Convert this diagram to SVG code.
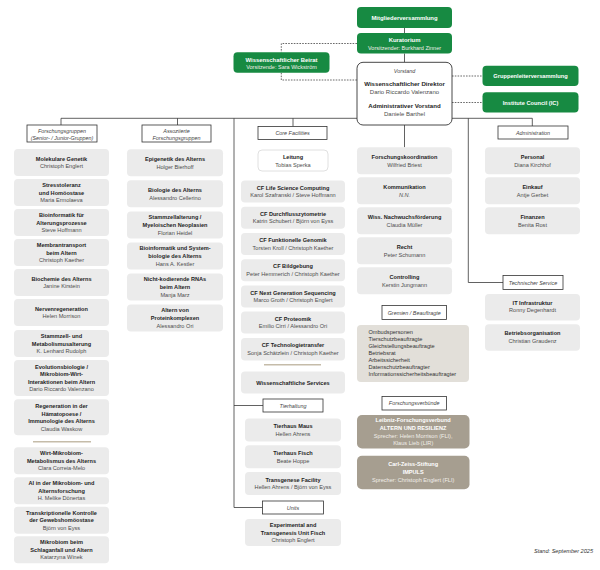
<svg xmlns="http://www.w3.org/2000/svg" width="600" height="570" viewBox="0 0 600 570">
<style>
.n{fill:#ebebeb}
.lb{fill:#fff;stroke:#333;stroke-width:.8}
.gr{fill:#178a42}
.tan{fill:#e2dfd9}
.dk{fill:#a69e90}
text{font-family:'Liberation Sans',Arial,sans-serif;font-size:5.6px;text-anchor:middle}
.b{font-weight:bold;fill:#1e1e1e}
.r{fill:#4d4d4d}
.i{font-style:italic;fill:#444}
.w{font-weight:bold;fill:#fff}
.wr{fill:#f1eee9}
.c{stroke:#3a3a3a;stroke-width:.8;fill:none}
.d{stroke:#444;stroke-width:.8;stroke-dasharray:1.6 1.2;fill:none}
.sep{stroke:#c5bca9;stroke-width:1.5}
</style>
<g id="connectors">
<path class="c" d="M404.5 28V33M404.5 53.5V62.3M404.5 125V147.3"/>
<path class="c" d="M61 118.3H532.3M61 118.3V125M177.5 118.3V125M234 118.3V507.5M293 118.3V126.5M468.3 118.3V282.5H503M532.3 118.3V126"/>
<path class="c" d="M234 405.5H263M234 507.5H262.5"/>
<path class="d" d="M357 43.5H281.3V52.3M281.3 72.8V80H357"/>
<path class="d" d="M452 76H482.5M452 102.5H482.5"/>
<line class="sep" x1="33" y1="441.7" x2="91" y2="441.7"/>
<line class="sep" x1="264" y1="364.8" x2="321" y2="364.8"/>
</g>
<g id="mitgliederversammlung"><rect class="gr" x="357" y="7" width="95" height="21" rx="4"/><text class="w" x="404.5" y="19.6" style="font-size:5.9px">Mitgliederversammlung</text></g>
<g id="kuratorium"><rect class="gr" x="357" y="33" width="95" height="20.5" rx="4"/><text class="w" x="404.5" y="42.1" style="font-size:5.9px">Kuratorium</text><text class="wr" x="404.5" y="49.7" style="font-size:5.5px">Vorsitzender: Burkhard Zinner</text></g>
<g id="beirat"><rect class="gr" x="233.5" y="52.3" width="96" height="20.5" rx="4"/><text class="w" x="281.5" y="62" style="font-size:5.9px">Wissenschaftlicher Beirat</text><text class="wr" x="281.5" y="69.4" style="font-size:5.5px">Vorsitzende: Sara Wickström</text></g>
<g id="vorstand"><rect x="357" y="62.3" width="95" height="62.7" rx="6" fill="#fff" stroke="#333" stroke-width=".9"/>
<text class="i" x="404.5" y="73.4" style="font-size:5.4px">Vorstand</text>
<text class="b" x="404.5" y="86.4" style="font-size:6.1px">Wissenschaftlicher Direktor</text>
<text class="r" x="404.5" y="94.4" style="font-size:6px">Dario Riccardo Valenzano</text>
<text class="b" x="404.5" y="108.1" style="font-size:6.1px">Administrativer Vorstand</text>
<text class="r" x="404.5" y="116.1" style="font-size:6px">Daniele Barthel</text></g>
<g id="gruppenleiter"><rect class="gr" x="482.5" y="65.7" width="96" height="20.3" rx="4"/><text class="w" x="530.5" y="78" style="font-size:5.7px">Gruppenleiterversammlung</text></g>
<g id="ic"><rect class="gr" x="482.5" y="92.3" width="96" height="20.3" rx="4"/><text class="w" x="530.5" y="104.5" style="font-size:5.7px">Institute Council (IC)</text></g>

<g id="lbl-forschungsgruppen"><rect class="lb" x="27" y="125" width="70" height="17"/><text class="i" x="62" y="132.6" style="font-size:5.4px">Forschungsgruppen</text><text class="i" x="62" y="140.1" style="font-size:5.4px">(Senior- / Junior-Gruppen)</text></g>
<g id="fg1"><rect class="n" x="14" y="149" width="95" height="27" rx="4"/><text class="b" x="61.5" y="160.7">Molekulare Genetik</text><text class="r" x="61.5" y="168.3">Christoph Englert</text></g>
<g id="fg2"><rect class="n" x="14" y="179" width="95" height="27" rx="4"/><text class="b" x="61.5" y="186.9">Stresstoleranz</text><text class="b" x="61.5" y="194.5">und Homöostase</text><text class="r" x="61.5" y="202.1">Maria Ermolaeva</text></g>
<g id="fg3"><rect class="n" x="14" y="209" width="95" height="27" rx="4"/><text class="b" x="61.5" y="216.9">Bioinformatik für</text><text class="b" x="61.5" y="224.5">Alterungsprozesse</text><text class="r" x="61.5" y="232.1">Steve Hoffmann</text></g>
<g id="fg4"><rect class="n" x="14" y="239" width="95" height="27" rx="4"/><text class="b" x="61.5" y="246.9">Membrantransport</text><text class="b" x="61.5" y="254.5">beim Altern</text><text class="r" x="61.5" y="262.1">Christoph Kaether</text></g>
<g id="fg5"><rect class="n" x="14" y="269" width="95" height="27" rx="4"/><text class="b" x="61.5" y="280.7">Biochemie des Alterns</text><text class="r" x="61.5" y="288.3">Janine Kirstein</text></g>
<g id="fg6"><rect class="n" x="14" y="299" width="95" height="27" rx="4"/><text class="b" x="61.5" y="310.7">Nervenregeneration</text><text class="r" x="61.5" y="318.3">Helen Morrison</text></g>
<g id="fg7"><rect class="n" x="14" y="330" width="95" height="27" rx="4"/><text class="b" x="61.5" y="337.9">Stammzell- und</text><text class="b" x="61.5" y="345.5">Metabolismusalterung</text><text class="r" x="61.5" y="353.1">K. Lenhard Rudolph</text></g>
<g id="fg8"><rect class="n" x="14" y="360" width="95" height="36" rx="4"/><text class="b" x="61.5" y="368.6">Evolutionsbiologie /</text><text class="b" x="61.5" y="376.2">Mikrobiom-Wirt-</text><text class="b" x="61.5" y="383.8">Interaktionen beim Altern</text><text class="r" x="61.5" y="391.4">Dario Riccardo Valenzano</text></g>
<g id="fg9"><rect class="n" x="14" y="399.3" width="95" height="36" rx="4"/><text class="b" x="61.5" y="407.9">Regeneration in der</text><text class="b" x="61.5" y="415.5">Hämatopoese /</text><text class="b" x="61.5" y="423.1">Immunologie des Alterns</text><text class="r" x="61.5" y="430.7">Claudia Waskow</text></g>
<g id="fg10"><rect class="n" x="14" y="447.3" width="95" height="27" rx="4"/><text class="b" x="61.5" y="455.2">Wirt-Mikrobiom-</text><text class="b" x="61.5" y="462.8">Metabolismus des Alterns</text><text class="r" x="61.5" y="470.4">Clara Correia-Melo</text></g>
<g id="fg11"><rect class="n" x="14" y="477.3" width="95" height="27" rx="4"/><text class="b" x="61.5" y="485.2">AI in der Mikrobiom- und</text><text class="b" x="61.5" y="492.8">Alternsforschung</text><text class="r" x="61.5" y="500.4">H. Melike Dönertas</text></g>
<g id="fg12"><rect class="n" x="14" y="506.7" width="95" height="27" rx="4"/><text class="b" x="61.5" y="514.6">Transkriptionelle Kontrolle</text><text class="b" x="61.5" y="522.2">der Gewebshomöostase</text><text class="r" x="61.5" y="529.8">Björn von Eyss</text></g>
<g id="fg13"><rect class="n" x="14" y="536.3" width="95" height="27" rx="4"/><text class="b" x="61.5" y="544.2">Mikrobiom beim</text><text class="b" x="61.5" y="551.8">Schlaganfall und Altern</text><text class="r" x="61.5" y="559.4">Katarzyna Winek</text></g>

<g id="lbl-assoziierte"><rect class="lb" x="142" y="125" width="69" height="17"/><text class="i" x="176.5" y="132.6" style="font-size:5.4px">Assoziierte</text><text class="i" x="176.5" y="140.1" style="font-size:5.4px">Forschungsgruppen</text></g>
<g id="af1"><rect class="n" x="127" y="149.3" width="96" height="27" rx="4"/><text class="b" x="175" y="161">Epigenetik des Alterns</text><text class="r" x="175" y="168.6">Holger Bierhoff</text></g>
<g id="af2"><rect class="n" x="127" y="180.3" width="96" height="27" rx="4"/><text class="b" x="175" y="192">Biologie des Alterns</text><text class="r" x="175" y="199.6">Alessandro Cellerino</text></g>
<g id="af3"><rect class="n" x="127" y="211.5" width="96" height="27" rx="4"/><text class="b" x="175" y="219.4">Stammzellalterung /</text><text class="b" x="175" y="227">Myeloischen Neoplasien</text><text class="r" x="175" y="234.6">Florian Heidel</text></g>
<g id="af4"><rect class="n" x="127" y="242.5" width="96" height="27" rx="4"/><text class="b" x="175" y="250.4">Bioinformatik und System-</text><text class="b" x="175" y="258">biologie des Alterns</text><text class="r" x="175" y="265.6">Hans A. Kestler</text></g>
<g id="af5"><rect class="n" x="127" y="273.5" width="96" height="27" rx="4"/><text class="b" x="175" y="281.4">Nicht-kodierende RNAs</text><text class="b" x="175" y="289">beim Altern</text><text class="r" x="175" y="296.6">Manja Marz</text></g>
<g id="af6"><rect class="n" x="127" y="304.5" width="96" height="27" rx="4"/><text class="b" x="175" y="312.4">Altern von</text><text class="b" x="175" y="320">Proteinkomplexen</text><text class="r" x="175" y="327.6">Alessandro Ori</text></g>

<g id="lbl-core"><rect class="lb" x="258" y="126.5" width="69" height="13"/><text class="i" x="292.5" y="135" style="font-size:5.4px">Core Facilities</text></g>
<g id="leitung"><rect x="258" y="150" width="70" height="21" rx="4" fill="#fff" stroke="#d8d8d8" stroke-width=".8"/><text class="b" x="293" y="158.9">Leitung</text><text class="r" x="293" y="166.5">Tobias Sperka</text></g>
<g id="cf1"><rect class="n" x="241" y="180.5" width="104" height="22" rx="4"/><text class="b" x="293" y="189.5">CF Life Science Computing</text><text class="r" x="293" y="197.1">Karol Szafranski / Steve Hoffmann</text></g>
<g id="cf2"><rect class="n" x="241" y="206.75" width="104" height="22" rx="4"/><text class="b" x="293" y="215.75">CF Durchflusszytometrie</text><text class="r" x="293" y="223.35">Katrin Schubert / Björn von Eyss</text></g>
<g id="cf3"><rect class="n" x="241" y="233" width="104" height="22" rx="4"/><text class="b" x="293" y="242">CF Funktionelle Genomik</text><text class="r" x="293" y="249.6">Torsten Kroll / Christoph Kaether</text></g>
<g id="cf4"><rect class="n" x="241" y="259.25" width="104" height="22" rx="4"/><text class="b" x="293" y="268.25">CF Bildgebung</text><text class="r" x="293" y="275.85">Peter Hemmerich / Christoph Kaether</text></g>
<g id="cf5"><rect class="n" x="241" y="285.5" width="104" height="22" rx="4"/><text class="b" x="293" y="294.5">CF Next Generation Sequencing</text><text class="r" x="293" y="302.1">Marco Groth / Christoph Englert</text></g>
<g id="cf6"><rect class="n" x="241" y="311.5" width="104" height="22" rx="4"/><text class="b" x="293" y="320.5">CF Proteomik</text><text class="r" x="293" y="328.1">Emilio Cirri / Alessandro Ori</text></g>
<g id="cf7"><rect class="n" x="241" y="338" width="104" height="22.5" rx="4"/><text class="b" x="293" y="347.2">CF Technologietransfer</text><text class="r" x="293" y="354.8">Sonja Schätzlein / Christoph Kaether</text></g>
<g id="wiss-services"><rect class="n" x="241" y="371.5" width="104" height="22" rx="4"/><text class="b" x="293" y="384.6">Wissenschaftliche Services</text></g>
<g id="lbl-tierhaltung"><rect class="lb" x="263" y="399" width="60" height="13"/><text class="i" x="293" y="407.6" style="font-size:5.4px">Tierhaltung</text></g>
<g id="th1"><rect class="n" x="245" y="418.5" width="96" height="23" rx="4"/><text class="b" x="293" y="428.2">Tierhaus Maus</text><text class="r" x="293" y="435.8">Hellen Ahrens</text></g>
<g id="th2"><rect class="n" x="245" y="445.3" width="96" height="23" rx="4"/><text class="b" x="293" y="455">Tierhaus Fisch</text><text class="r" x="293" y="462.6">Beate Hoppe</text></g>
<g id="th3"><rect class="n" x="245" y="472" width="96" height="23" rx="4"/><text class="b" x="293" y="481.7">Transgenese Facility</text><text class="r" x="293" y="489.3">Hellen Ahrens / Björn von Eyss</text></g>
<g id="lbl-units"><rect class="lb" x="262.5" y="501" width="61" height="13"/><text class="i" x="293" y="509.6" style="font-size:5.4px">Units</text></g>
<g id="unit1"><rect class="n" x="245" y="519" width="96" height="27" rx="4"/><text class="b" x="293" y="526.9">Experimental and</text><text class="b" x="293" y="534.5">Transgenesis Unit Fisch</text><text class="r" x="293" y="542.1">Christoph Englert</text></g>

<g id="st1"><rect class="n" x="357" y="147.3" width="95" height="27" rx="4"/><text class="b" x="404.5" y="159">Forschungskoordination</text><text class="r" x="404.5" y="166.6">Wilfried Briest</text></g>
<g id="st2"><rect class="n" x="357" y="177.3" width="95" height="27" rx="4"/><text class="b" x="404.5" y="189">Kommunikation</text><text class="r" x="404.5" y="196.6" style="font-style:italic">N.N.</text></g>
<g id="st3"><rect class="n" x="357" y="207.3" width="95" height="27" rx="4"/><text class="b" x="404.5" y="219">Wiss. Nachwuchsförderung</text><text class="r" x="404.5" y="226.6">Claudia Müller</text></g>
<g id="st4"><rect class="n" x="357" y="237.3" width="95" height="27" rx="4"/><text class="b" x="404.5" y="249">Recht</text><text class="r" x="404.5" y="256.6">Peter Schumann</text></g>
<g id="st5"><rect class="n" x="357" y="267.3" width="95" height="27" rx="4"/><text class="b" x="404.5" y="279">Controlling</text><text class="r" x="404.5" y="286.6">Kerstin Jungmann</text></g>
<g id="lbl-gremien"><rect class="lb" x="382" y="305.5" width="64.5" height="14"/><text class="i" x="414.2" y="314.6" style="font-size:5.4px">Gremien / Beauftragte</text></g>
<g id="gremien"><rect class="tan" x="357" y="325" width="112" height="57" rx="4"/>
<g style="text-anchor:start"><text class="r" x="368.5" y="334.3" style="text-anchor:start;fill:#333">Ombudspersonen</text><text class="r" x="368.5" y="341.25" style="text-anchor:start;fill:#333">Tierschutzbeauftragte</text><text class="r" x="368.5" y="348.2" style="text-anchor:start;fill:#333">Gleichstellungsbeauftragte</text><text class="r" x="368.5" y="355.15" style="text-anchor:start;fill:#333">Betriebsrat</text><text class="r" x="368.5" y="362.1" style="text-anchor:start;fill:#333">Arbeitssicherheit</text><text class="r" x="368.5" y="369.05" style="text-anchor:start;fill:#333">Datenschutzbeauftragter</text><text class="r" x="368.5" y="376" style="text-anchor:start;fill:#333">Informationssicherheitsbeauftragter</text></g></g>
<g id="lbl-verbuende"><rect class="lb" x="382" y="396.5" width="64.5" height="13.5"/><text class="i" x="414.2" y="405.4" style="font-size:5.4px">Forschungsverbünde</text></g>
<g id="leibniz"><rect class="dk" x="357" y="415" width="112.5" height="33.5" rx="5"/><text class="w" x="413.2" y="422.1">Leibniz-Forschungsverbund</text><text class="w" x="413.2" y="429.8">ALTERN UND RESILIENZ</text><text class="wr" x="413.2" y="437.5">Sprecher: Helen Morrison (FLI),</text><text class="wr" x="413.2" y="445.2">Klaus Lieb (LIR)</text></g>
<g id="carlzeiss"><rect class="dk" x="357" y="455.7" width="112.5" height="33.5" rx="5"/><text class="w" x="413.2" y="466">Carl-Zeiss-Stiftung</text><text class="w" x="413.2" y="473.7">IMPULS</text><text class="wr" x="413.2" y="482">Sprecher: Christoph Englert (FLI)</text></g>

<g id="lbl-admin"><rect class="lb" x="498" y="126" width="70" height="13"/><text class="i" x="533" y="134.7" style="font-size:5.4px">Administration</text></g>
<g id="ad1"><rect class="n" x="485" y="147.3" width="95" height="27" rx="4"/><text class="b" x="532.5" y="159">Personal</text><text class="r" x="532.5" y="166.6">Diana Kirchhof</text></g>
<g id="ad2"><rect class="n" x="485" y="177.3" width="95" height="27" rx="4"/><text class="b" x="532.5" y="189">Einkauf</text><text class="r" x="532.5" y="196.6">Antje Gerbet</text></g>
<g id="ad3"><rect class="n" x="485" y="207.3" width="95" height="27" rx="4"/><text class="b" x="532.5" y="219">Finanzen</text><text class="r" x="532.5" y="226.6">Benita Rost</text></g>
<g id="lbl-tech"><rect class="lb" x="503" y="275.5" width="60" height="14"/><text class="i" x="533" y="284.6" style="font-size:5.4px">Technischer Service</text></g>
<g id="ts1"><rect class="n" x="485" y="294" width="95" height="26.5" rx="4"/><text class="b" x="532.5" y="304.6">IT Infrastruktur</text><text class="r" x="532.5" y="312.2">Ronny Degenhardt</text></g>
<g id="ts2"><rect class="n" x="485" y="324.3" width="95" height="26.5" rx="4"/><text class="b" x="532.5" y="334.9">Betriebsorganisation</text><text class="r" x="532.5" y="342.5">Christian Graudenz</text></g>

<text class="i" x="593" y="552.6" style="text-anchor:end;fill:#333">Stand: September 2025</text>
</svg>
